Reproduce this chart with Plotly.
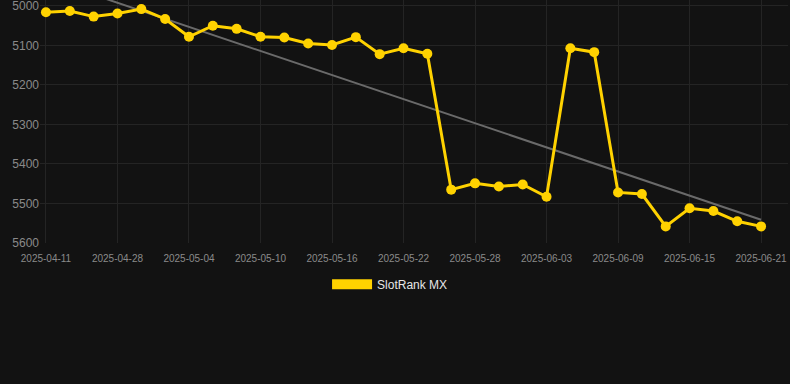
import plotly.graph_objects as go

dates = ["2025-04-11", "2025-04-24", "2025-04-26", "2025-04-28", "2025-04-30",
         "2025-05-02", "2025-05-04", "2025-05-06", "2025-05-08", "2025-05-10",
         "2025-05-12", "2025-05-14", "2025-05-16", "2025-05-18", "2025-05-20",
         "2025-05-22", "2025-05-24", "2025-05-26", "2025-05-28", "2025-05-30",
         "2025-06-01", "2025-06-03", "2025-06-05", "2025-06-07", "2025-06-09",
         "2025-06-11", "2025-06-13", "2025-06-15", "2025-06-17", "2025-06-19",
         "2025-06-21"]
ranks = [5016, 5013, 5027, 5019, 5008, 5033, 5078, 5050, 5058, 5078,
         5080, 5095, 5099, 5079, 5122, 5107, 5121, 5465, 5449, 5457,
         5452, 5483, 5107, 5117, 5472, 5476, 5558, 5512, 5519, 5545,
         5558]
trend_x = [dates[0], dates[-1]]
trend_y = [4931, 5541]
tick_labels = dates[::3]
y_ticks = [5000, 5100, 5200, 5300, 5400, 5500, 5600]

gold = "#FFD200"
bg = "#121212"
grid = "#242424"
tickc = "#8a8a8a"

fig = go.Figure()
fig.add_trace(go.Scatter(x=trend_x, y=trend_y, mode="lines",
                         line=dict(color="#6a6a6a", width=2),
                         showlegend=False, hoverinfo="skip"))
fig.add_trace(go.Scatter(x=dates, y=ranks, mode="lines+markers",
                         line=dict(color=gold, width=3),
                         marker=dict(color=gold, size=10),
                         showlegend=False))
fig.add_trace(go.Scatter(x=[None], y=[None], mode="lines",
                         line=dict(color=gold, width=12),
                         name="SlotRank MX", showlegend=True))

fig.update_layout(
    width=790, height=384,
    paper_bgcolor=bg, plot_bgcolor=bg,
    margin=dict(l=40, r=2, t=0, b=141),
    font=dict(family="Liberation Sans, Arial, sans-serif", color=tickc),
    showlegend=True,
    legend=dict(orientation="h", x=0.468, xanchor="center", y=-0.17,
                yanchor="middle", font=dict(size=12, color="#e6e6e6"),
                bgcolor="rgba(0,0,0,0)", itemwidth=40),
)
fig.update_xaxes(type="category", categoryorder="array", categoryarray=dates,
                 range=[-0.25, 31.13], tickmode="array",
                 tickvals=tick_labels, ticktext=tick_labels,
                 showgrid=True, gridcolor=grid, gridwidth=1,
                 zeroline=False, showline=False, ticks="",
                 ticklabelstandoff=8, ticklabeloverflow="allow",
                 tickfont=dict(size=10, color=tickc))
fig.update_yaxes(range=[5600, 4985], tickmode="array", tickvals=y_ticks,
                 showgrid=True, gridcolor=grid, gridwidth=1,
                 zeroline=False, showline=False, ticks="",
                 ticklabeloverflow="allow",
                 tickfont=dict(size=12, color=tickc))

fig.write_html("out.html", config={"displayModeBar": False})
with open("out.html", encoding="utf-8") as f:
    html = f.read()
html = html.replace("<head>", "<head><style>html,body{margin:0;padding:0;background:#121212;overflow:hidden}</style>", 1)
with open("out.html", "w", encoding="utf-8") as f:
    f.write(html)
